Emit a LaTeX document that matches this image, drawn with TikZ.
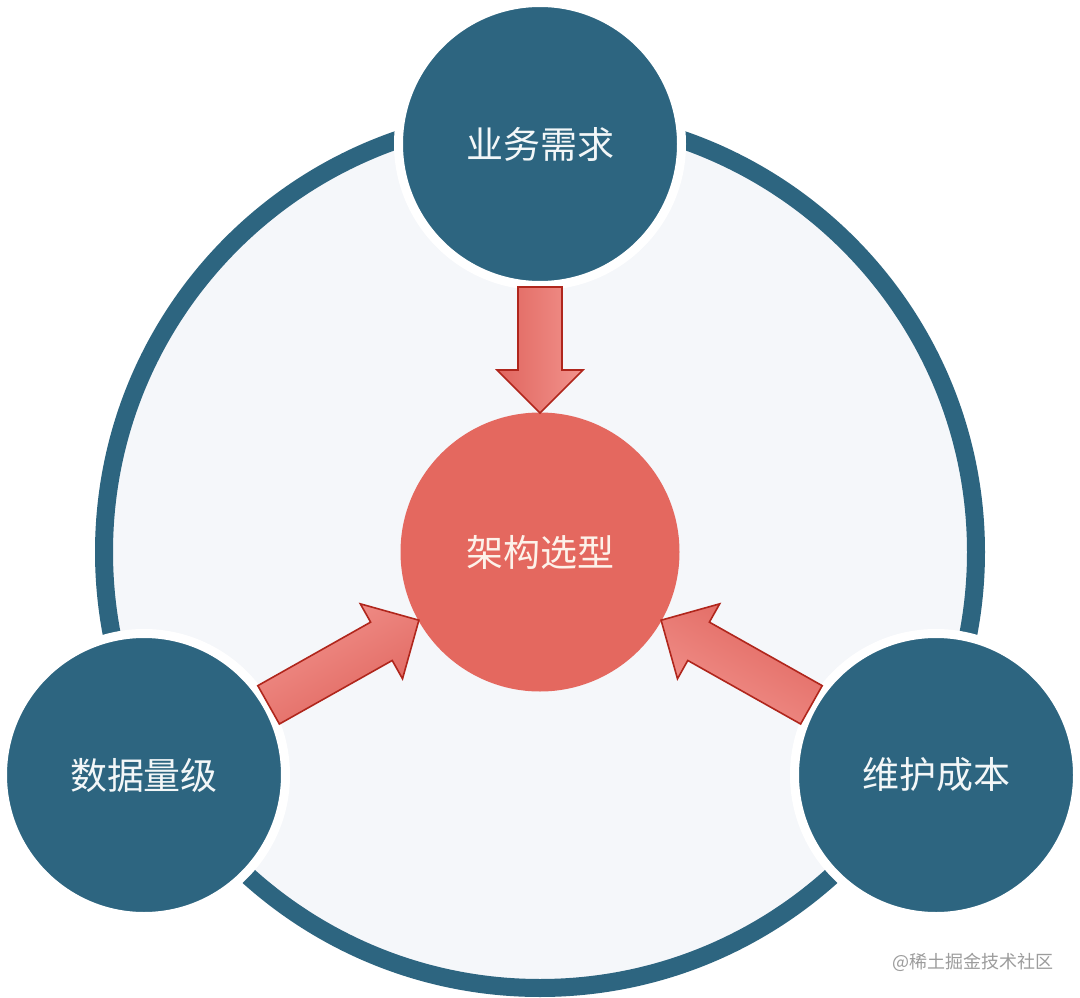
\documentclass[tikz,border=0pt]{standalone}
\usepackage{fontspec}
\newfontfamily\cjk{Noto Sans CJK SC}
\usetikzlibrary{calc}
\definecolor{ringblue}{HTML}{2D6580}
\definecolor{innerfill}{HTML}{F5F7FA}
\definecolor{corered}{HTML}{E4685F}
\definecolor{arrowdark}{HTML}{E0655E}
\definecolor{arrowlight}{HTML}{F2938D}
\definecolor{arrowline}{HTML}{B0261C}
\definecolor{wmgray}{HTML}{9C9C9C}
\definecolor{txtw}{HTML}{F3F7F8}
\definecolor{txtc}{HTML}{FDF2EA}
\begin{document}
\begin{tikzpicture}[x=1pt,y=-1pt,
  bigring/.style={circle, draw=ringblue, line width=18pt, fill=innerfill, minimum size=872pt, inner sep=0pt},
  factor/.style={circle, fill=ringblue, draw=white, line width=9pt, minimum size=283pt, inner sep=0pt, text=txtw, font=\cjk\fontsize{37}{44}\selectfont},
  corenode/.style={circle, fill=corered, minimum size=279pt, inner sep=0pt, text=txtc, font=\cjk\fontsize{37}{44}\selectfont},
  fatarrow/.style={draw=arrowline, line width=1.6pt, line join=miter}
]
\useasboundingbox[fill=white] (0,0) rectangle (1080,998);

\node[bigring] (ring) at (540,552) {};

\node[factor] (top) at (540,144) {业务需求};
\node[factor] (dl) at (144,775) {数据量级};
\node[factor] (dr) at (936,775) {维护成本};
\node[corenode] (c) at (540,552) {架构选型};

% arrow helper coordinates
\foreach \n in {top,dl,dr}{
  \coordinate (\n-s) at ($(\n.center)!143pt!(c.center)$);
  \coordinate (\n-e) at ($(c.center)!139pt!(\n.center)$);
  \coordinate (\n-h) at ($(\n-e)!43pt!(\n-s)$);
}

\draw[fatarrow, left color=arrowdark, right color=arrowlight]
  ($(top-s)!22pt!90:(top-e)$) -- ($(top-h)!22pt!90:(top-e)$) -- ($(top-h)!43pt!90:(top-e)$)
  -- (top-e) -- ($(top-h)!43pt!-90:(top-e)$) -- ($(top-h)!22pt!-90:(top-e)$)
  -- ($(top-s)!22pt!-90:(top-e)$) -- cycle;

\draw[fatarrow, top color=arrowlight, bottom color=arrowdark, shading angle=30]
  ($(dl-s)!22pt!90:(dl-e)$) -- ($(dl-h)!22pt!90:(dl-e)$) -- ($(dl-h)!43pt!90:(dl-e)$)
  -- (dl-e) -- ($(dl-h)!43pt!-90:(dl-e)$) -- ($(dl-h)!22pt!-90:(dl-e)$)
  -- ($(dl-s)!22pt!-90:(dl-e)$) -- cycle;

\draw[fatarrow, top color=arrowdark, bottom color=arrowlight, shading angle=-30]
  ($(dr-s)!22pt!90:(dr-e)$) -- ($(dr-h)!22pt!90:(dr-e)$) -- ($(dr-h)!43pt!90:(dr-e)$)
  -- (dr-e) -- ($(dr-h)!43pt!-90:(dr-e)$) -- ($(dr-h)!22pt!-90:(dr-e)$)
  -- ($(dr-s)!22pt!-90:(dr-e)$) -- cycle;

\node[anchor=east, text=wmgray, font=\cjk\fontsize{18}{20}\selectfont, inner sep=0pt] (wm) at (1054,962) {@稀土掘金技术社区};
\end{tikzpicture}
\end{document}
